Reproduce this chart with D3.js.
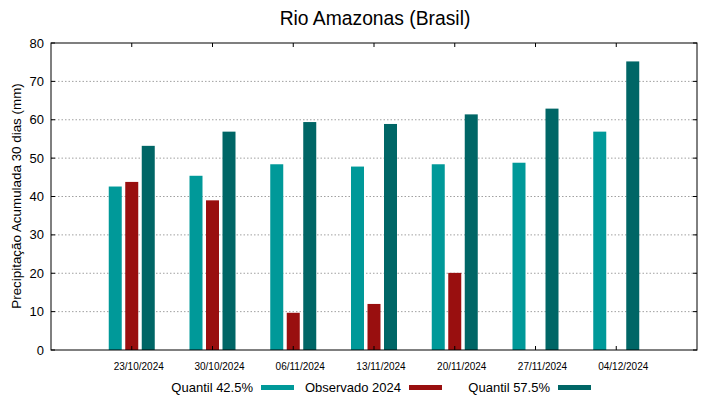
<!DOCTYPE html>
<html><head><meta charset="utf-8">
<script src="https://cdn.jsdelivr.net/npm/d3@7"></script>
<style>body{margin:0;background:#fff}svg{display:block}text{font-family:"Liberation Sans",Arial,sans-serif;fill:#000}</style>
</head><body>
<script>
const categories = ["23/10/2024","30/10/2024","06/11/2024","13/11/2024","20/11/2024","27/11/2024","04/12/2024"];
const q425 = [42.6, 45.4, 48.4, 47.8, 48.4, 48.8, 56.9];
const observado = [43.8, 39.0, 9.7, 12.0, 20.1, null, null];
const q575 = [53.2, 56.9, 59.4, 58.9, 61.4, 62.9, 75.2];
const yTicks = [0,10,20,30,40,50,60,70,80];
const seriesNames = ["Quantil 42.5%","Observado 2024","Quantil 57.5%"];
const colors = ["#009999","#990f0f","#006666"];

const W=719,H=399;
const m={l:51,r:697,t:43,b:350};
const svg=d3.select("body").append("svg").attr("width",W).attr("height",H);
const x=d3.scalePoint().domain(categories).range([m.l,m.r]).padding(1);
const y=d3.scaleLinear().domain([0,80]).range([m.b,m.t]);

// grid
svg.append("g").selectAll("line").data(yTicks.filter(d=>d>0&&d<80)).join("line")
 .attr("x1",m.l).attr("x2",m.r).attr("y1",d=>y(d)).attr("y2",d=>y(d))
 .attr("stroke","#a0a0a0").attr("stroke-width",1).attr("stroke-dasharray","1.5,2");

// bars
const series=[q425,observado,q575];
const offs=[-16.5,0,16.5], bw=13;
series.forEach((s,i)=>{
  svg.append("g").selectAll("rect").data(categories.map((c,j)=>({c,v:s[j]})).filter(d=>d.v!=null)).join("rect")
   .attr("x",d=>x(d.c)+offs[i]-bw/2).attr("width",bw)
   .attr("y",d=>y(d.v)).attr("height",d=>y(0)-y(d.v)).attr("fill",colors[i]);
});

// border
svg.append("rect").attr("x",m.l).attr("y",m.t).attr("width",m.r-m.l).attr("height",m.b-m.t)
 .attr("fill","none").attr("stroke","#000").attr("stroke-width",1);

// y axis ticks (left & right, inward)
const ya=svg.append("g");
yTicks.forEach(t=>{
  ya.append("line").attr("x1",m.l).attr("x2",m.l+4).attr("y1",y(t)).attr("y2",y(t)).attr("stroke","#000");
  ya.append("line").attr("x1",m.r).attr("x2",m.r-4).attr("y1",y(t)).attr("y2",y(t)).attr("stroke","#000");
  ya.append("text").attr("x",44).attr("y",y(t)).attr("dy","0.35em").attr("text-anchor","end").attr("font-size",13).text(t);
});
// x ticks top & bottom
const xa=svg.append("g");
categories.forEach(c=>{
  xa.append("line").attr("x1",x(c)).attr("x2",x(c)).attr("y1",m.t).attr("y2",m.t+4).attr("stroke","#000");
  xa.append("line").attr("x1",x(c)).attr("x2",x(c)).attr("y1",m.b).attr("y2",m.b-4).attr("stroke","#000");
  xa.append("text").attr("x",x(c)+7).attr("y",370).attr("text-anchor","middle").attr("font-size",10).text(c);
});

// title
svg.append("text").attr("x",375).attr("y",24.5).attr("text-anchor","middle").attr("font-size",19.3).text("Rio Amazonas (Brasil)");
// y label
svg.append("text").attr("transform","translate(21,196) rotate(-90)").attr("text-anchor","middle").attr("font-size",13.4).text("Precipitação Acumulada 30 dias (mm)");

// legend
const legTextEnd=[253,401,550], legSw=[261,409,558];
seriesNames.forEach((n,i)=>{
  svg.append("text").attr("x",legTextEnd[i]).attr("y",392).attr("text-anchor","end").attr("font-size",13).text(n);
  svg.append("rect").attr("x",legSw[i]).attr("y",385).attr("width",33).attr("height",5).attr("fill",colors[i]);
});
</script>
</body></html>
